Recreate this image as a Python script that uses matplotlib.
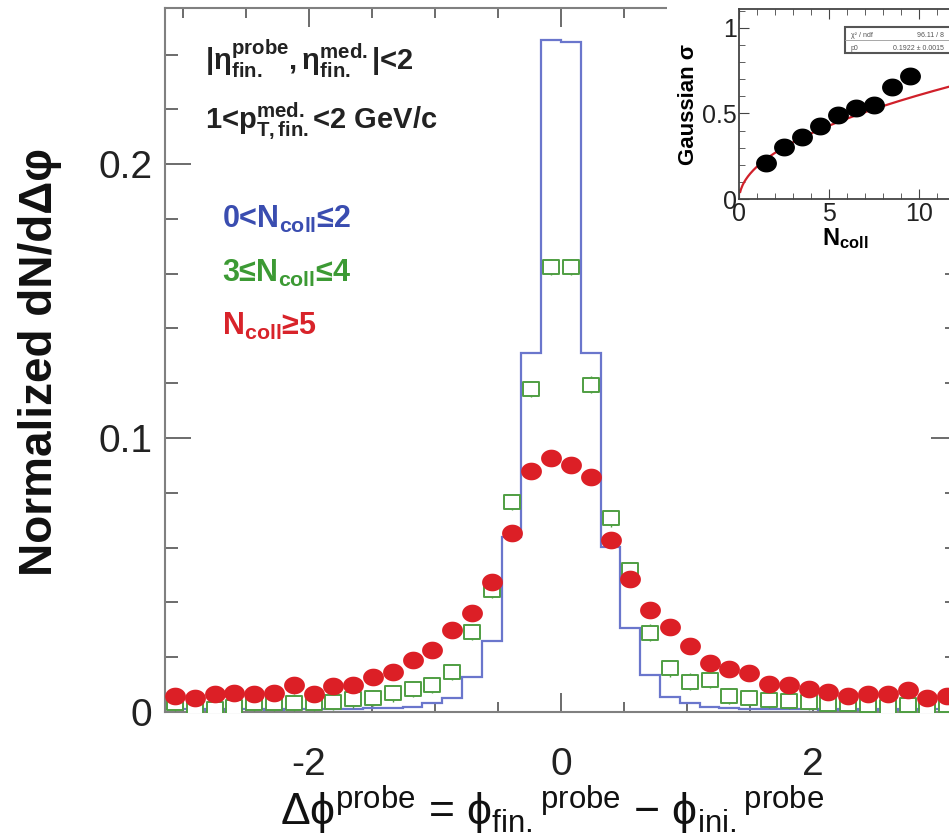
import matplotlib
matplotlib.use('Agg')
import matplotlib.pyplot as plt
import numpy as np
from matplotlib.patches import Rectangle
from matplotlib.path import Path

plt.rcParams['font.family'] = ['Liberation Sans', 'DejaVu Sans']
plt.rcParams['mathtext.fontset'] = 'custom'
plt.rcParams['mathtext.rm'] = 'Liberation Sans'
plt.rcParams['mathtext.it'] = 'Liberation Sans'
plt.rcParams['mathtext.bf'] = 'Liberation Sans:bold'
plt.rcParams['mathtext.fallback'] = 'stixsans'
plt.rcParams['mathtext.default'] = 'regular'

# 40 bins over [-pi, pi]
n_bins = 40

# blue histogram: 0 < Ncoll <= 2
blue_vals = [0.0010, 0.0010, 0.0008, 0.0010, 0.0010, 0.0008, 0.0010, 0.0010, 0.0012, 0.0012,
             0.0013, 0.0015, 0.0019, 0.0032, 0.0050, 0.0129, 0.0260, 0.0640, 0.1310, 0.2452,
             0.2445, 0.1310, 0.0603, 0.0305, 0.0135, 0.0056, 0.0032, 0.0017, 0.0013, 0.0012,
             0.0010, 0.0010, 0.0010, 0.0008, 0.0010, 0.0008, 0.0010, 0.0008, 0.0010, 0.0010]

# green open squares: 3 <= Ncoll <= 4
green_vals = [0.0032, 0.0019, 0.0011, 0.0019, 0.0032, 0.0032, 0.0034, 0.0034, 0.0038, 0.0046,
              0.0051, 0.0068, 0.0084, 0.0099, 0.0147, 0.0293, 0.0445, 0.0766, 0.1180, 0.1625,
              0.1625, 0.1195, 0.0707, 0.0518, 0.0290, 0.0159, 0.0111, 0.0118, 0.0059, 0.0051,
              0.0044, 0.0040, 0.0036, 0.0030, 0.0029, 0.0027, 0.0019, 0.0027, 0.0019, 0.0024]

# red filled circles: Ncoll >= 5
red_vals = [0.0058, 0.0050, 0.0066, 0.0068, 0.0066, 0.0070, 0.0099, 0.0066, 0.0095, 0.0097,
            0.0129, 0.0147, 0.0190, 0.0226, 0.0299, 0.0360, 0.0476, 0.0652, 0.0881, 0.0926,
            0.0901, 0.0859, 0.0628, 0.0484, 0.0372, 0.0309, 0.0241, 0.0178, 0.0157, 0.0142,
            0.0103, 0.0100, 0.0085, 0.0072, 0.0060, 0.0065, 0.0067, 0.0082, 0.0050, 0.0060]

# inset: gaussian width vs Ncoll
inset_ncoll = [1.5, 2.5, 3.5, 4.5, 5.5, 6.5, 7.5, 8.5, 9.5]
inset_sigma = [0.21, 0.305, 0.365, 0.425, 0.49, 0.53, 0.55, 0.655, 0.72]
fit_p0 = 0.1922

edges = np.linspace(-np.pi, np.pi, n_bins + 1)
centers = 0.5 * (edges[:-1] + edges[1:])

W, H = 949, 836
fig = plt.figure(figsize=(W / 100, H / 100), dpi=100)

def fx(px):
    return px / W

def fy(py):
    return 1 - py / H

# the picture is a bit stretched sideways, so markers are wider than tall
t = np.linspace(0, 2 * np.pi, 60)
ellipse = Path(np.column_stack([1.18 * np.cos(t), np.sin(t)]), closed=True)
wide_sq = Path([(-1.12, -1), (1.12, -1), (1.12, 1), (-1.12, 1), (-1.12, -1)], closed=True)

spine_col = '#808080'
ax = fig.add_axes([fx(165), fy(712), fx(957) - fx(165), fy(8) - fy(712)])
ax.set_zorder(0)

ax.stairs(blue_vals, edges, color='#6a76cc', lw=1.6, zorder=2)
ax.errorbar(centers, green_vals, yerr=0.003, xerr=0.065, fmt='none',
            ecolor='#4f9e42', elinewidth=1.0, capsize=0, zorder=3)
ax.plot(centers, green_vals, linestyle='none', marker=wide_sq, ms=12, mfc='white',
        mec='#4f9e42', mew=1.4, zorder=3)
ax.plot(centers, red_vals, linestyle='none', marker=ellipse, ms=15, color='#dc1f26',
        mec='none', zorder=4)

ax.set_xlim(-np.pi, np.pi)
ax.set_ylim(0, 0.257)
ax.set_xticks([-2, 0, 2])
ax.set_xticklabels(['-2', '0', '2'])
ax.set_xticks(np.arange(-3, 3.01, 0.5), minor=True)
ax.set_yticks([0, 0.1, 0.2])
ax.set_yticklabels(['0', '0.1', '0.2'])
ax.set_yticks(np.arange(0, 0.257, 0.02), minor=True)
for s in ax.spines.values():
    s.set_color(spine_col)
    s.set_linewidth(1.5)
ax.tick_params(axis='both', which='both', direction='in', top=True, right=True,
               color='#606060', width=1.3, labelcolor='#222222', labelsize=28)
ax.tick_params(axis='x', which='major', length=14, pad=25)
ax.tick_params(axis='x', which='minor', length=7)
ax.tick_params(axis='y', which='major', length=19, pad=9)
ax.tick_params(axis='y', which='minor', length=9)

# axis titles
fig.text(fx(40), fy(362), 'Normalized dN/d\u0394\u03c6', rotation=90, ha='center',
         va='center', fontsize=33, fontweight='bold', color='#111111')
fig.text(fx(552), fy(825),
         r'$\Delta\phi^{probe}$ = $\phi_{fin.}{}^{probe}$ $-$ $\phi_{ini.}{}^{probe}$',
         ha='center', va='baseline', fontsize=32, color='#111111')

# annotations
fig.text(fx(205), fy(70), r'$|\eta^{probe}_{fin.},\eta^{med.}_{fin.}|$<2',
         fontsize=21, fontweight='bold', color='#222222', va='baseline')
fig.text(fx(205), fy(129), r'1<$p^{med.}_{T,fin.}$<2 GeV/c',
         fontsize=21, fontweight='bold', color='#222222', va='baseline')
fig.text(fx(222), fy(228), '0<' + r'$N_{coll}$' + '\u22642',
         fontsize=22, fontweight='bold', color='#3a4db0', va='baseline')
fig.text(fx(222), fy(282), '3\u2264' + r'$N_{coll}$' + '\u22644',
         fontsize=22, fontweight='bold', color='#3c9a34', va='baseline')
fig.text(fx(222), fy(335), r'$N_{coll}$' + '\u22655',
         fontsize=22, fontweight='bold', color='#d8232a', va='baseline')

# white area behind the inset
bg = Rectangle((fx(667), fy(256)), 1 - fx(667), 1 - fy(256), transform=fig.transFigure,
               facecolor='white', edgecolor='none', zorder=1)
fig.add_artist(bg)

# inset
inx0, inx1 = 739.3, 739.3 + 18.0 * 13
ins = fig.add_axes([fx(inx0), fy(199.3), fx(inx1) - fx(inx0), fy(9.3) - fy(199.3)])
ins.set_zorder(2)
ins.plot(inset_ncoll, inset_sigma, linestyle='none', marker=ellipse, ms=14, color='black',
         zorder=3)
nn = np.linspace(0.05, 13, 300)
ins.plot(nn, fit_p0 * np.sqrt(nn), color='#d0202a', lw=1.6, zorder=2)
ins.set_xlim(0, 13)
ins.set_ylim(0, 1.107)
ins.set_xticks([0, 5, 10])
ins.set_xticks(np.arange(0, 13.1, 1), minor=True)
ins.set_yticks([0, 0.5, 1])
ins.set_yticklabels(['0', '0.5', '1'])
ins.set_yticks(np.arange(0, 1.101, 0.1), minor=True)
for s in ins.spines.values():
    s.set_color('#444444')
    s.set_linewidth(1.3)
ins.tick_params(axis='both', which='both', direction='in', top=True, right=True,
                color='#444444', labelsize=18, labelcolor='#222222', pad=2)
ins.tick_params(which='major', length=7)
ins.tick_params(which='minor', length=4)
ins.set_ylabel('Gaussian \u03c3', fontsize=16, fontweight='bold', labelpad=2)
ins.set_xlabel(r'$N_{coll}$', fontsize=17, fontweight='bold', labelpad=0)
ins.xaxis.set_label_coords((845 - inx0) / (inx1 - inx0), -0.14)

# fit statistics box
box = Rectangle((fx(845), fy(53)), fx(960) - fx(845), fy(27) - fy(53),
                transform=fig.transFigure, facecolor='white', edgecolor='#555555',
                lw=1.5, zorder=5)
fig.add_artist(box)
fig.add_artist(plt.Line2D([fx(845), fx(960)], [fy(40), fy(40)], transform=fig.transFigure,
                          color='#999999', lw=0.6, zorder=6))
fig.text(fx(851), fy(37), '\u03c7\u00b2 / ndf', fontsize=5, color='#555555', zorder=7)
fig.text(fx(944), fy(37), '96.11 / 8', fontsize=5, color='#555555', ha='right', zorder=7)
fig.text(fx(851), fy(50), 'p0', fontsize=5, color='#555555', zorder=7)
fig.text(fx(944), fy(50), '0.1922 \u00b1 0.0015', fontsize=5, color='#555555', ha='right',
         zorder=7)

fig.savefig('out.png', dpi=100)
